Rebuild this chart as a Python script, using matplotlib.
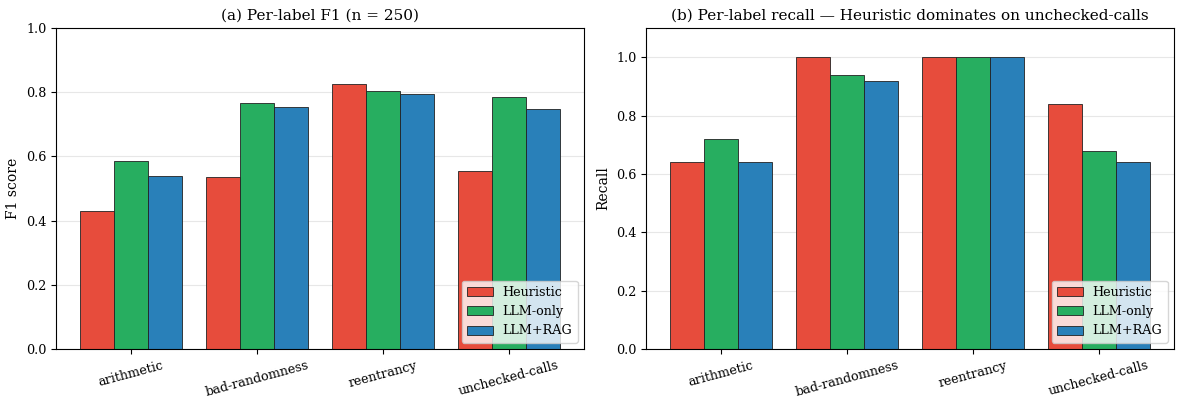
import numpy as np
import matplotlib
matplotlib.use("Agg")
import matplotlib.pyplot as plt

plt.rcParams['font.family'] = 'DejaVu Serif'
plt.rcParams['font.size'] = 9.2

labels = ['arithmetic', 'bad-randomness', 'reentrancy', 'unchecked-calls']
methods = ['Heuristic', 'LLM-only', 'LLM+RAG']
colors = ['#e74c3c', '#27ae60', '#2980b9']

f1_heuristic = [0.430, 0.535, 0.826, 0.555]
f1_llm = [0.587, 0.765, 0.805, 0.786]
f1_rag = [0.540, 0.753, 0.793, 0.749]

rec_heuristic = [0.64, 1.00, 1.00, 0.84]
rec_llm = [0.72, 0.94, 1.00, 0.68]
rec_rag = [0.64, 0.92, 1.00, 0.64]

fig = plt.figure(figsize=(11.77, 3.99), dpi=100)
ax1 = fig.add_axes([56 / 1177, 50 / 399, 528 / 1177, 321 / 399])
ax2 = fig.add_axes([646 / 1177, 50 / 399, 528 / 1177, 321 / 399])
x = np.arange(len(labels))
w = 0.27

def draw(ax, series, title, ylabel, ylim):
    for i, (vals, name) in enumerate(zip(series, methods)):
        ax.bar(x + (i - 1) * w, vals, w, label=name, color=colors[i],
               edgecolor='#222222', linewidth=0.6)
    ax.set_xticks(x)
    ax.set_xticklabels(labels, rotation=15)
    ax.set_ylim(*ylim)
    ax.set_ylabel(ylabel, fontsize=10)
    ax.set_title(title, fontsize=11)
    ax.yaxis.grid(True, alpha=0.3)
    ax.set_axisbelow(True)
    ax.legend(loc='lower right', fontsize=9.2)

draw(ax1, [f1_heuristic, f1_llm, f1_rag], '(a) Per-label F1 (n = 250)', 'F1 score', (0, 1.0))
draw(ax2, [rec_heuristic, rec_llm, rec_rag],
     '(b) Per-label recall \u2014 Heuristic dominates on unchecked-calls', 'Recall', (0, 1.1))

plt.savefig('out.png', dpi=100)
